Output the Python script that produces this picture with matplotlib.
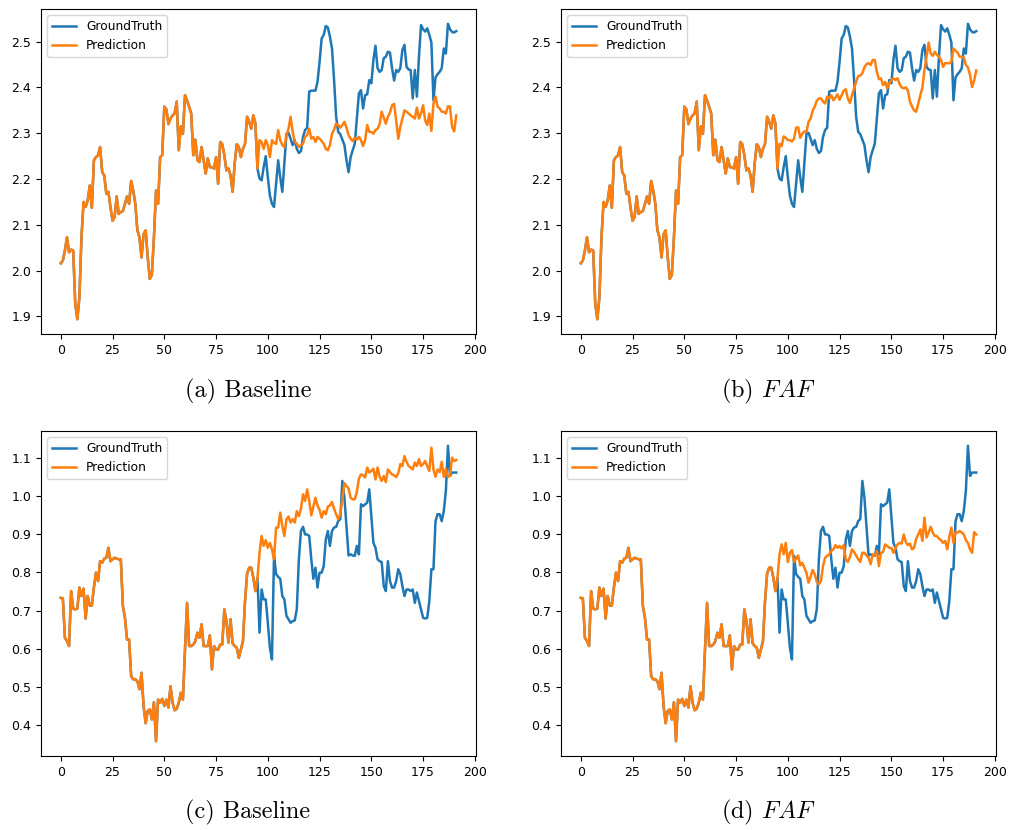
import numpy as np
import matplotlib
matplotlib.use("Agg")
import matplotlib.pyplot as plt

plt.rcParams['mathtext.fontset'] = 'cm'

# ---------------- data (top row) ----------------
# indices 0..95: ground truth and both predictions coincide
top_common = [
    2.016, 2.022, 2.044, 2.073, 2.040, 2.046, 2.044, 1.927, 1.894, 1.942,
    2.073, 2.150, 2.139, 2.153, 2.186, 2.137, 2.241, 2.248, 2.252, 2.270,
    2.215, 2.208, 2.168, 2.172, 2.139, 2.109, 2.117, 2.162, 2.124, 2.128,
    2.130, 2.146, 2.162, 2.146, 2.196, 2.175, 2.146, 2.088, 2.073, 2.029,
    2.080, 2.088, 2.029, 1.982, 1.991, 2.073, 2.175, 2.146, 2.248, 2.252,
    2.358, 2.352, 2.320, 2.332, 2.339, 2.343, 2.369, 2.263, 2.315, 2.299,
    2.383, 2.371, 2.358, 2.343, 2.252, 2.286, 2.241, 2.237, 2.270, 2.241,
    2.212, 2.245, 2.226, 2.226, 2.223, 2.248, 2.190, 2.281, 2.276, 2.252,
    2.219, 2.223, 2.208, 2.172, 2.234, 2.276, 2.270, 2.248, 2.266, 2.277,
    2.336, 2.325, 2.310, 2.339, 2.321, 2.223]

# indices 96..191
top_gt_tail = [
    2.201, 2.197, 2.226, 2.250, 2.204, 2.164, 2.146, 2.139, 2.190, 2.241,
    2.204, 2.172, 2.234, 2.299, 2.301, 2.288, 2.274, 2.285, 2.266, 2.257,
    2.261, 2.292, 2.307, 2.312, 2.391, 2.393, 2.393, 2.393, 2.412, 2.456,
    2.507, 2.515, 2.534, 2.531, 2.511, 2.485, 2.416, 2.336, 2.303, 2.298,
    2.286, 2.274, 2.241, 2.215, 2.248, 2.263, 2.277, 2.332, 2.387, 2.394,
    2.354, 2.383, 2.385, 2.416, 2.409, 2.460, 2.491, 2.442, 2.434, 2.438,
    2.464, 2.467, 2.478, 2.476, 2.442, 2.415, 2.438, 2.434, 2.442, 2.482,
    2.493, 2.445, 2.439, 2.438, 2.376, 2.438, 2.380, 2.467, 2.536, 2.527,
    2.522, 2.529, 2.515, 2.498, 2.372, 2.422, 2.429, 2.434, 2.442, 2.485,
    2.474, 2.539, 2.527, 2.521, 2.520, 2.523]

top_base_tail = [
    2.285, 2.281, 2.266, 2.285, 2.274, 2.248, 2.285, 2.279, 2.277, 2.307,
    2.285, 2.274, 2.270, 2.296, 2.310, 2.336, 2.303, 2.281, 2.277, 2.270,
    2.274, 2.277, 2.292, 2.296, 2.310, 2.288, 2.292, 2.281, 2.292, 2.288,
    2.283, 2.277, 2.266, 2.263, 2.274, 2.299, 2.308, 2.321, 2.318, 2.312,
    2.318, 2.325, 2.312, 2.296, 2.288, 2.283, 2.290, 2.286, 2.292, 2.285,
    2.272, 2.285, 2.318, 2.303, 2.303, 2.299, 2.307, 2.310, 2.320, 2.347,
    2.334, 2.321, 2.336, 2.345, 2.361, 2.364, 2.328, 2.288, 2.314, 2.332,
    2.350, 2.347, 2.343, 2.339, 2.336, 2.332, 2.356, 2.332, 2.343, 2.361,
    2.328, 2.318, 2.343, 2.305, 2.365, 2.380, 2.358, 2.354, 2.347, 2.347,
    2.343, 2.359, 2.358, 2.314, 2.304, 2.339]

top_faf_tail = [
    2.277, 2.272, 2.293, 2.290, 2.285, 2.285, 2.282, 2.288, 2.312, 2.313,
    2.290, 2.299, 2.304, 2.303, 2.325, 2.332, 2.349, 2.358, 2.371, 2.376,
    2.376, 2.369, 2.365, 2.380, 2.376, 2.383, 2.372, 2.378, 2.385, 2.373,
    2.383, 2.393, 2.396, 2.376, 2.366, 2.383, 2.398, 2.412, 2.425, 2.426,
    2.431, 2.444, 2.451, 2.453, 2.449, 2.460, 2.460, 2.434, 2.418, 2.420,
    2.405, 2.412, 2.398, 2.409, 2.416, 2.420, 2.416, 2.420, 2.407, 2.400,
    2.398, 2.400, 2.393, 2.369, 2.358, 2.350, 2.347, 2.365, 2.383, 2.400,
    2.438, 2.467, 2.498, 2.474, 2.469, 2.478, 2.471, 2.467, 2.460, 2.445,
    2.453, 2.453, 2.453, 2.456, 2.485, 2.480, 2.476, 2.467, 2.467, 2.466,
    2.449, 2.444, 2.427, 2.401, 2.415, 2.437]

# ---------------- data (bottom row) ----------------
bot_common = [
    0.733, 0.732, 0.629, 0.620, 0.607, 0.751, 0.705, 0.703, 0.705, 0.760,
    0.738, 0.757, 0.679, 0.738, 0.713, 0.713, 0.760, 0.799, 0.777, 0.829,
    0.825, 0.836, 0.838, 0.864, 0.829, 0.834, 0.838, 0.836, 0.834, 0.834,
    0.712, 0.681, 0.624, 0.624, 0.528, 0.520, 0.520, 0.515, 0.494, 0.537,
    0.450, 0.405, 0.437, 0.441, 0.415, 0.460, 0.358, 0.467, 0.459, 0.469,
    0.450, 0.467, 0.446, 0.502, 0.459, 0.439, 0.443, 0.459, 0.485, 0.467,
    0.598, 0.720, 0.607, 0.607, 0.611, 0.620, 0.642, 0.629, 0.664, 0.607,
    0.607, 0.607, 0.635, 0.546, 0.607, 0.598, 0.598, 0.611, 0.611, 0.703,
    0.672, 0.616, 0.677, 0.614, 0.607, 0.603, 0.576, 0.598, 0.620, 0.725,
    0.797, 0.812, 0.812, 0.786, 0.751, 0.785]

bot_gt_tail = [
    0.642, 0.755, 0.729, 0.729, 0.668, 0.603, 0.572, 0.843, 0.795, 0.788,
    0.783, 0.738, 0.729, 0.686, 0.677, 0.668, 0.672, 0.674, 0.703, 0.834,
    0.908, 0.919, 0.899, 0.899, 0.895, 0.834, 0.783, 0.812, 0.760, 0.799,
    0.799, 0.816, 0.886, 0.908, 0.869, 0.908, 0.917, 0.919, 0.934, 0.939,
    1.039, 0.995, 0.921, 0.844, 0.847, 0.844, 0.843, 0.869, 0.847, 0.978,
    0.973, 0.978, 0.982, 1.017, 0.947, 0.877, 0.864, 0.834, 0.829, 0.827,
    0.764, 0.751, 0.829, 0.777, 0.760, 0.760, 0.777, 0.808, 0.795, 0.764,
    0.738, 0.755, 0.755, 0.751, 0.755, 0.720, 0.747, 0.725, 0.703, 0.681,
    0.679, 0.681, 0.725, 0.808, 0.808, 0.934, 0.952, 0.952, 0.934, 0.960,
    1.013, 1.131, 1.052, 1.061, 1.061, 1.061]

bot_base_tail = [
    0.851, 0.895, 0.869, 0.884, 0.864, 0.877, 0.860, 0.834, 0.917, 0.917,
    0.956, 0.921, 0.895, 0.939, 0.946, 0.930, 0.939, 0.930, 0.960, 0.947,
    0.966, 1.004, 0.987, 1.017, 0.987, 0.949, 0.972, 0.995, 0.975, 0.963,
    0.943, 0.960, 0.952, 0.972, 0.975, 0.984, 0.966, 0.952, 0.939, 0.952,
    0.991, 1.033, 1.026, 1.019, 0.995, 0.991, 0.991, 1.010, 1.045, 1.056,
    1.054, 1.048, 1.074, 1.061, 1.065, 1.071, 1.043, 1.074, 1.050, 1.039,
    1.052, 1.036, 1.069, 1.062, 1.056, 1.054, 1.049, 1.059, 1.083, 1.078,
    1.104, 1.089, 1.078, 1.074, 1.069, 1.087, 1.078, 1.096, 1.078, 1.083,
    1.091, 1.078, 1.065, 1.126, 1.069, 1.050, 1.069, 1.062, 1.089, 1.050,
    1.071, 1.050, 1.052, 1.100, 1.091, 1.094]

bot_faf_tail = [
    0.847, 0.873, 0.847, 0.877, 0.827, 0.851, 0.858, 0.827, 0.836, 0.844,
    0.818, 0.825, 0.812, 0.799, 0.773, 0.788, 0.806, 0.795, 0.775, 0.768,
    0.777, 0.816, 0.838, 0.843, 0.847, 0.856, 0.860, 0.871, 0.864, 0.869,
    0.862, 0.871, 0.834, 0.827, 0.840, 0.860, 0.853, 0.844, 0.834, 0.827,
    0.851, 0.851, 0.844, 0.838, 0.821, 0.847, 0.844, 0.856, 0.816, 0.851,
    0.853, 0.873, 0.869, 0.864, 0.864, 0.851, 0.864, 0.873, 0.877, 0.875,
    0.899, 0.879, 0.871, 0.875, 0.860, 0.864, 0.888, 0.899, 0.912, 0.882,
    0.943, 0.891, 0.904, 0.919, 0.904, 0.895, 0.895, 0.888, 0.884, 0.877,
    0.882, 0.860, 0.893, 0.917, 0.877, 0.904, 0.904, 0.908, 0.904, 0.899,
    0.884, 0.877, 0.860, 0.851, 0.905, 0.899]

captions = ["(a) Baseline", "(b) $FAF$", "(c) Baseline", "(d) $FAF$"]
legend_labels = ["GroundTruth", "Prediction"]

gt_top = np.array(top_common + top_gt_tail)
pa = np.array(top_common + top_base_tail)
pb = np.array(top_common + top_faf_tail)
gt_bot = np.array(bot_common + bot_gt_tail)
pc = np.array(bot_common + bot_base_tail)
pd_ = np.array(bot_common + bot_faf_tail)

panels = [(gt_top, pa), (gt_top, pb), (gt_bot, pc), (gt_bot, pd_)]

W, H = 1011, 830
fig = plt.figure(figsize=(W / 100, H / 100), dpi=100)

boxes = [
    (41, 9, 435, 325),
    (561, 9, 435, 325),
    (41, 431, 435, 325),
    (561, 431, 435, 325),
]
cap_pos = [(248, 391), (768, 391), (248, 812), (768, 812)]

for k, ((gt, pr), (x0, y0, w, h)) in enumerate(zip(panels, boxes)):
    ax = fig.add_axes([x0 / W, 1 - (y0 + h) / H, w / W, h / H])
    x = np.arange(len(gt))
    ax.plot(x, gt, color='#1f77b4', lw=1.8, label=legend_labels[0])
    ax.plot(x, pr, color='#ff7f0e', lw=1.8, label=legend_labels[1])
    ax.set_xticks([0, 25, 50, 75, 100, 125, 150, 175, 200])
    ax.tick_params(labelsize=9)
    ax.legend(loc='upper left', fontsize=8.8)
    cx, cy = cap_pos[k]
    fig.text(cx / W, 1 - cy / H, captions[k], ha='center', va='center',
             fontsize=17.5, family='cmr10')

fig.savefig("out.png", dpi=100)
